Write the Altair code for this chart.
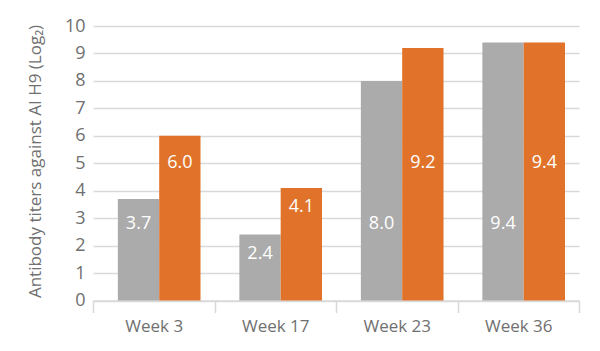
import altair as alt
import pandas as pd

weeks = ["Week 3", "Week 17", "Week 23", "Week 36"]
series = ["Series 1", "Series 2"]
series1_values = [3.7, 2.4, 8.0, 9.4]
series2_values = [6.0, 4.1, 9.2, 9.4]
y_ticks = list(range(0, 11))

colors = ["#ABABAB", "#E07329"]
label_caps = {"Series 1": 2.8, "Series 2": 5.0}

rows = []
for w, a, b in zip(weeks, series1_values, series2_values):
    for s, v in ((series[0], a), (series[1], b)):
        rows.append({"week": w, "series": s, "value": v,
                     "label_pos": min(label_caps[s], v - 0.7)})
df = pd.DataFrame(rows)

FONT = "Open Sans"
TITLE = "Antibody titers against AI H9 (Log\u2082)"

x_enc = alt.X("week:N", sort=weeks,
              scale=alt.Scale(paddingInner=0, paddingOuter=0),
              axis=alt.Axis(title=None, labelAngle=0, tickBand="extent",
                            domainColor="#d9d9d9", domainWidth=1.5,
                            tickColor="#d9d9d9", tickWidth=1.5, tickSize=12,
                            labelFontSize=17, labelColor="#707070",
                            labelFont=FONT, labelPadding=6, grid=False))
xoff_enc = alt.XOffset("series:N", sort=series,
                       scale=alt.Scale(paddingInner=0, paddingOuter=0.47, align=0.64))

y_axis = alt.Axis(values=y_ticks, title=TITLE)

bars = alt.Chart(df).mark_bar().encode(
    x=x_enc,
    xOffset=xoff_enc,
    y=alt.Y("value:Q", scale=alt.Scale(domain=[0, 10]), axis=y_axis),
    color=alt.Color("series:N", scale=alt.Scale(domain=series, range=colors), legend=None),
)

labels = alt.Chart(df).mark_text(color="white", fontSize=18, font=FONT, baseline="middle").encode(
    x=x_enc,
    xOffset=xoff_enc,
    y=alt.Y("label_pos:Q", axis=y_axis),
    text=alt.Text("value:Q", format=".1f"),
)

chart = alt.layer(bars, labels).properties(
    width=486, height=274.5,
    autosize=alt.AutoSizeParams(type="none"),
    padding={"left": 93, "top": 26, "right": 21, "bottom": 50},
).configure_view(stroke=None).configure_axisY(
    grid=True, gridColor="#d9d9d9", gridWidth=1.5,
    domain=False, ticks=False,
    labelFontSize=18, labelColor="#707070", labelFont=FONT, labelPadding=8,
    titleFontSize=17, titleFontWeight="normal", titleColor="#707070", titleFont=FONT,
    titleX=-58, titleY=135, titleAngle=270, titleAlign="center", titleBaseline="middle",
)

chart.save("out.html", embed_options={"renderer": "svg", "actions": False})
